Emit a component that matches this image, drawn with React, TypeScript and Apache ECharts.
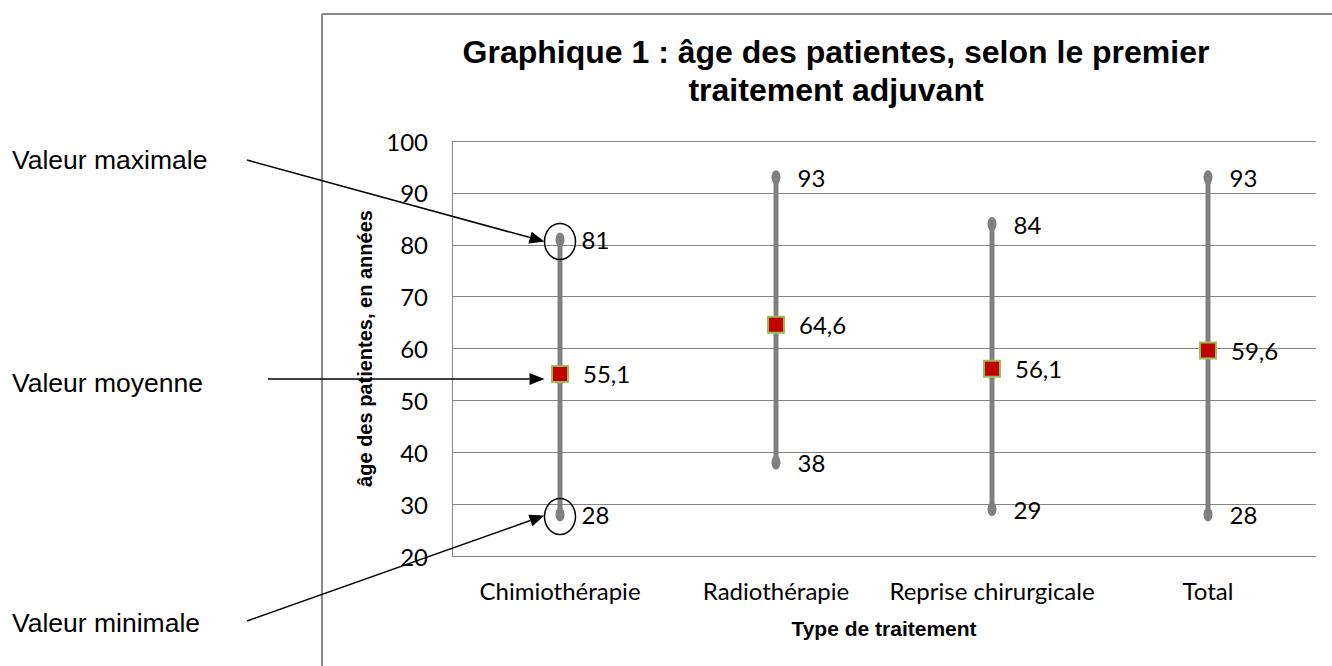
import React, { useEffect, useRef } from "react";
import * as echarts from "echarts";

const categories = ["Chimiothérapie", "Radiothérapie", "Reprise chirurgicale", "Total"];
const minValues = [28, 38, 29, 28];
const maxValues = [81, 93, 84, 93];
const meanValues = [55.1, 64.6, 56.1, 59.6];
const yTicks = { min: 20, max: 100, interval: 10 };
const titleText = "Graphique 1 : âge des patientes, selon le premier\ntraitement adjuvant";
const yAxisName = "âge des patientes, en années";
const xAxisName = "Type de traitement";
const annotations = ["Valeur maximale", "Valeur moyenne", "Valeur minimale"];

const fmt = (v: number) => String(v).replace(".", ",");
const labelFont = "Lato, 'Open Sans', sans-serif";
const arial = "'Liberation Sans', Arial, sans-serif";

export default function App() {
  const ref = useRef<HTMLDivElement>(null);
  useEffect(() => {
    document.body.style.margin = "0";
    const chart = echarts.init(ref.current!, null, { renderer: "svg" });
    const rangeData = categories.map((_, i) => [i, minValues[i], maxValues[i]]);
    const pointLabel = (distance: number) => ({
      show: true,
      position: "right",
      distance,
      formatter: (p: any) => fmt(p.value),
      fontFamily: labelFont,
      fontSize: 24,
      color: "#000",
    });
    chart.setOption({
      animation: false,
      backgroundColor: "#ffffff",
      title: {
        text: titleText,
        left: 831,
        top: 28,
        textAlign: "center",
        textStyle: {
          fontFamily: arial,
          fontWeight: "bold",
          fontSize: 32,
          lineHeight: 38,
          color: "#000",
        },
      },
      grid: { left: 452, right: 16, top: 141, bottom: 110 },
      xAxis: {
        type: "category",
        data: categories,
        boundaryGap: true,
        name: xAxisName,
        nameLocation: "middle",
        nameGap: 62,
        nameTextStyle: {
          fontFamily: arial,
          fontWeight: "bold",
          fontSize: 21,
          color: "#000",
        },
        axisLine: { show: true, lineStyle: { color: "#868686", width: 1 } },
        axisTick: { show: false },
        axisLabel: {
          interval: 0,
          fontFamily: labelFont,
          fontSize: 24,
          color: "#000",
          margin: 22,
        },
        splitLine: { show: false },
      },
      yAxis: {
        type: "value",
        min: yTicks.min,
        max: yTicks.max,
        interval: yTicks.interval,
        name: yAxisName,
        nameLocation: "middle",
        nameGap: 74,
        nameTextStyle: {
          fontFamily: arial,
          fontWeight: "bold",
          fontSize: 20,
          color: "#000",
        },
        axisLine: { show: true, lineStyle: { color: "#868686", width: 1 } },
        axisTick: { show: false },
        axisLabel: { fontFamily: labelFont, fontSize: 24, color: "#000", margin: 24 },
        splitLine: { show: true, lineStyle: { color: "#868686", width: 1 } },
      },
      series: [
        {
          type: "custom",
          data: rangeData,
          encode: { x: 0, y: [1, 2] },
          renderItem: (params: any, api: any) => {
            const a = api.coord([api.value(0), api.value(1)]);
            const b = api.coord([api.value(0), api.value(2)]);
            return {
              type: "line",
              shape: { x1: a[0], y1: a[1], x2: b[0], y2: b[1] },
              style: { stroke: "#808080", lineWidth: 5 },
            };
          },
          z: 2,
        },
        {
          type: "scatter",
          data: maxValues,
          symbol: "circle",
          symbolSize: [9, 14],
          itemStyle: { color: "#808080", opacity: 1 },
          label: pointLabel(17),
          z: 3,
        },
        {
          type: "scatter",
          data: minValues,
          symbol: "circle",
          symbolSize: [9, 14],
          itemStyle: { color: "#808080", opacity: 1 },
          label: pointLabel(17),
          z: 3,
        },
        {
          type: "scatter",
          data: meanValues,
          symbol: "rect",
          symbolSize: 16,
          itemStyle: { color: "#C00000", borderColor: "#9BBB59", borderWidth: 2, opacity: 1 },
          label: pointLabel(14),
          z: 4,
        },
      ],
    });

    const toPx = (i: number, v: number) =>
      chart.convertToPixel({ xAxisIndex: 0, yAxisIndex: 0 }, [i, v]) as number[];
    const pMax = toPx(0, maxValues[0]);
    const pMean = toPx(0, meanValues[0]);
    const pMin = toPx(0, minValues[0]);

    const arrow = (x1: number, y1: number, x2: number, y2: number) => {
      const ang = Math.atan2(y2 - y1, x2 - x1);
      const L = 15;
      const W = 6;
      const bx = x2 - L * Math.cos(ang);
      const by = y2 - L * Math.sin(ang);
      const nx = -Math.sin(ang);
      const ny = Math.cos(ang);
      return [
        {
          type: "line",
          shape: { x1, y1, x2: bx, y2: by },
          style: { stroke: "#000", lineWidth: 1.5 },
          z: 100,
        },
        {
          type: "polygon",
          shape: {
            points: [
              [x2, y2],
              [bx + nx * W, by + ny * W],
              [bx - nx * W, by - ny * W],
            ],
          },
          style: { fill: "#000" },
          z: 100,
        },
      ];
    };

    const annoStyle = { fontFamily: arial, fontSize: 26.5, fill: "#000", textVerticalAlign: "middle" };

    chart.setOption({
      graphic: [
        {
          type: "line",
          shape: { x1: 322, y1: 14, x2: 322, y2: 666 },
          style: { stroke: "#878787", lineWidth: 2 },
          z: 90,
        },
        {
          type: "line",
          shape: { x1: 322, y1: 14, x2: 1332, y2: 14 },
          style: { stroke: "#878787", lineWidth: 2 },
          z: 90,
        },
        { type: "text", x: 12, y: 160, style: { ...annoStyle, text: annotations[0] }, z: 100 },
        { type: "text", x: 12, y: 383, style: { ...annoStyle, text: annotations[1] }, z: 100 },
        { type: "text", x: 12, y: 623, style: { ...annoStyle, text: annotations[2] }, z: 100 },
        {
          type: "ellipse",
          shape: { cx: pMax[0], cy: pMax[1] + 2, rx: 15.5, ry: 18 },
          style: { fill: "none", stroke: "#000", lineWidth: 1.5 },
          z: 100,
        },
        {
          type: "ellipse",
          shape: { cx: pMin[0], cy: pMin[1] + 2, rx: 15.5, ry: 18 },
          style: { fill: "none", stroke: "#000", lineWidth: 1.5 },
          z: 100,
        },
        ...arrow(247, 160, pMax[0] - 15.5, pMax[1] + 2),
        ...arrow(268, 379, pMean[0] - 15.5, pMean[1] + 5),
        ...arrow(247, 621, pMin[0] - 15.5, pMin[1] + 1),
      ],
    });

    return () => chart.dispose();
  }, []);
  return <div ref={ref} style={{ width: 1332, height: 666 }} />;
}
